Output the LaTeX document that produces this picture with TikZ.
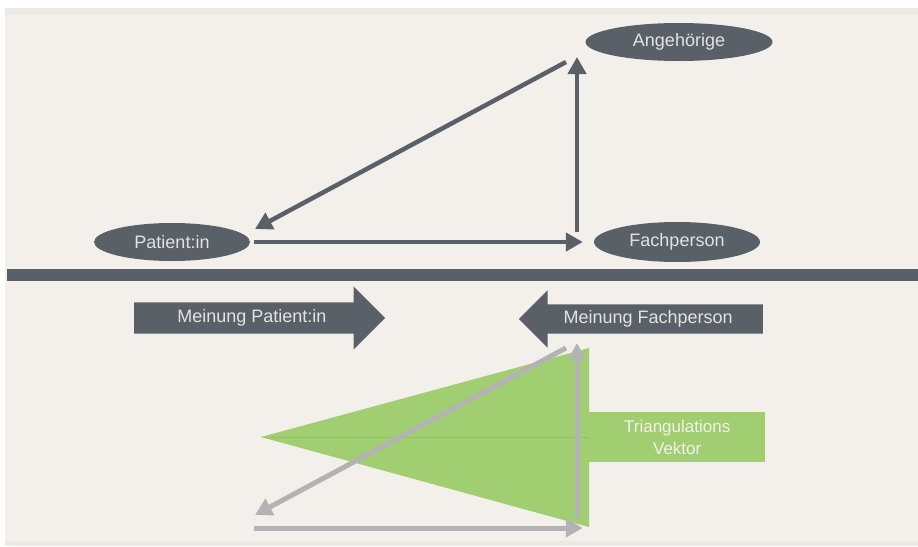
\documentclass[tikz,border=0pt]{standalone}
\usepackage{fontspec}
\setmainfont{Liberation Sans}
\usetikzlibrary{arrows.meta,shapes,positioning,calc}
\definecolor{schiefer}{HTML}{5A6067}
\definecolor{hell}{HTML}{E2E3E3}
\definecolor{papier}{HTML}{F3F0EB}
\definecolor{papierrand}{HTML}{EDEAE5}
\definecolor{gruen}{HTML}{A2CE72}
\definecolor{grau}{HTML}{B3B3B3}
\tikzstyle{person} = [ellipse, fill=schiefer, text=hell, inner sep=0pt,
    font=\fontsize{18}{20}\selectfont]
\tikzstyle{meinung} = [single arrow, fill=schiefer, text=hell,
    single arrow head extend=16pt, single arrow head indent=0pt,
    inner ysep=7pt, text height=13pt, text depth=4pt,
    font=\fontsize{18}{20}\selectfont]
\tikzstyle{pfeil} = [draw=schiefer, line width=4.5pt,
    -{Triangle[length=17pt,width=18pt]}]
\tikzstyle{schatten} = [pfeil, draw=grau, line width=5pt]

\begin{document}
\begin{tikzpicture}[x=1pt,y=-1pt]
  \useasboundingbox (0,0) rectangle (918,546);
  % Hintergrund
  \fill[white] (0,0) rectangle (918,546);
  \fill[papier] (5,8) rectangle (918,546);
  \fill[papierrand] (5,8) rectangle (918,15);
  \fill[papierrand] (5,541) rectangle (918,546);

  % oberes Dreieck
  \node[person, minimum width=187pt, minimum height=38pt] (ang) at (679,42) {Angehörige};
  \node[person, minimum width=156pt, minimum height=38pt] (pat) at (172,242) {Patient:in};
  \node[person, minimum width=166pt, minimum height=40pt] (fach) at (677,242) {Fachperson};

  \coordinate (fachfuss) at (577,232);
  \coordinate (angfuss) at (577,57);
  \coordinate (angschulter) at (566,62);
  \coordinate (patschulter) at (255,229);

  \draw[pfeil, shorten <=4pt, shorten >=11pt] (pat.east) -- (fach.west);
  \draw[pfeil] (fachfuss) -- (angfuss);
  \draw[pfeil] (angschulter) -- (patschulter);

  % Trennbalken
  \fill[schiefer] (7,269) rectangle (918,281);

  % Meinungen
  \node[meinung, minimum height=251pt, anchor=tail] (mpat) at (134,318) {Meinung Patient:in};
  \node[meinung, shape border rotate=180, minimum height=244pt, anchor=tail,
        inner ysep=6pt, single arrow head extend=14pt] (mfach) at (763,319) {Meinung Fachperson};

  % Triangulation
  \node[fill=gruen, text=papier, minimum width=176pt, minimum height=50pt, inner sep=0pt,
        align=center, anchor=west, font=\fontsize{17}{22}\selectfont] (tri) at (589,437)
        {Triangulations\\Vektor};
  \fill[gruen] (261,437) -- (589,348) -- (589,527) -- cycle;
  \draw[green!50!black, opacity=.12, line width=1pt] (261,437) -- (tri.west);

  \draw[schatten, shorten <=4pt, shorten >=11pt] ($(pat.east)+(0,286)$) -- ($(fach.west)+(0,286)$);
  \draw[schatten] ($(fachfuss)+(0,286)$) -- ($(angfuss)+(0,286)$);
  \draw[schatten] ($(angschulter)+(0,286)$) -- ($(patschulter)+(0,286)$);
\end{tikzpicture}
\end{document}
